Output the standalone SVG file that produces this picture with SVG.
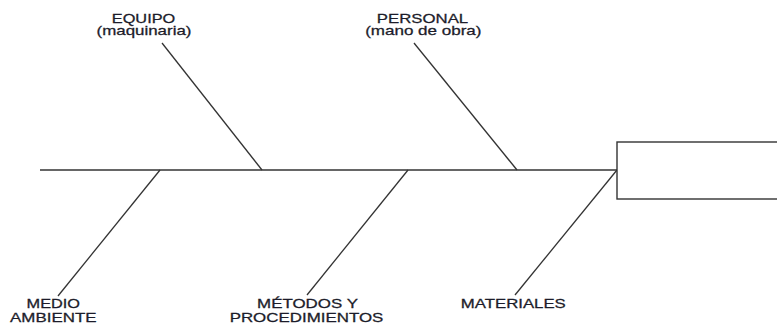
<svg xmlns="http://www.w3.org/2000/svg" width="777" height="324" viewBox="0 0 777 324">
  <style>
    .bone { stroke: #333; stroke-width: 1.3; fill: none; }
    .lbl { font-family: "Liberation Sans", Arial, sans-serif; font-size: 12px; fill: #1c1c2a; stroke: #1c1c2a; stroke-width: 0.25; text-anchor: middle; }
    .head { fill: #fff; stroke: #333; stroke-width: 1.4; }
  </style>
  <rect width="777" height="324" fill="#fff"/>

  <!-- spine and ribs -->
  <g id="connectors">
    <line class="bone" x1="40" y1="170" x2="617" y2="170"/>
    <line class="bone" x1="162" y1="43" x2="262" y2="170"/>
    <line class="bone" x1="414" y1="43" x2="517" y2="170"/>
    <line class="bone" x1="160" y1="170" x2="58" y2="296"/>
    <line class="bone" x1="408" y1="170" x2="307" y2="295"/>
    <line class="bone" x1="617" y1="170" x2="515" y2="295"/>
  </g>

  <!-- effect box (head) -->
  <g id="head">
    <rect class="head" x="617" y="142" width="170" height="57"/>
  </g>

  <!-- labels use a wide (1.4x horizontal) Arial-style face -->
  <g id="equipo">
    <text class="lbl" transform="translate(143.5 22.5) scale(1.36 1)">EQUIPO</text>
    <text class="lbl" transform="translate(144 35) scale(1.41 1)">(maquinaria)</text>
  </g>

  <g id="personal">
    <text class="lbl" transform="translate(422.5 22.5) scale(1.4 1)">PERSONAL</text>
    <text class="lbl" transform="translate(423.3 35) scale(1.42 1)">(mano de obra)</text>
  </g>

  <g id="medio-ambiente">
    <text class="lbl" transform="translate(53.3 308.3) scale(1.36 1)">MEDIO</text>
    <text class="lbl" transform="translate(53.3 322) scale(1.41 1)">AMBIENTE</text>
  </g>

  <g id="metodos">
    <text class="lbl" transform="translate(307.5 308.3) scale(1.41 1)">MÉTODOS Y</text>
    <text class="lbl" transform="translate(306.5 322) scale(1.41 1)">PROCEDIMIENTOS</text>
  </g>

  <g id="materiales">
    <text class="lbl" transform="translate(513.3 308.3) scale(1.4 1)">MATERIALES</text>
  </g>
</svg>
